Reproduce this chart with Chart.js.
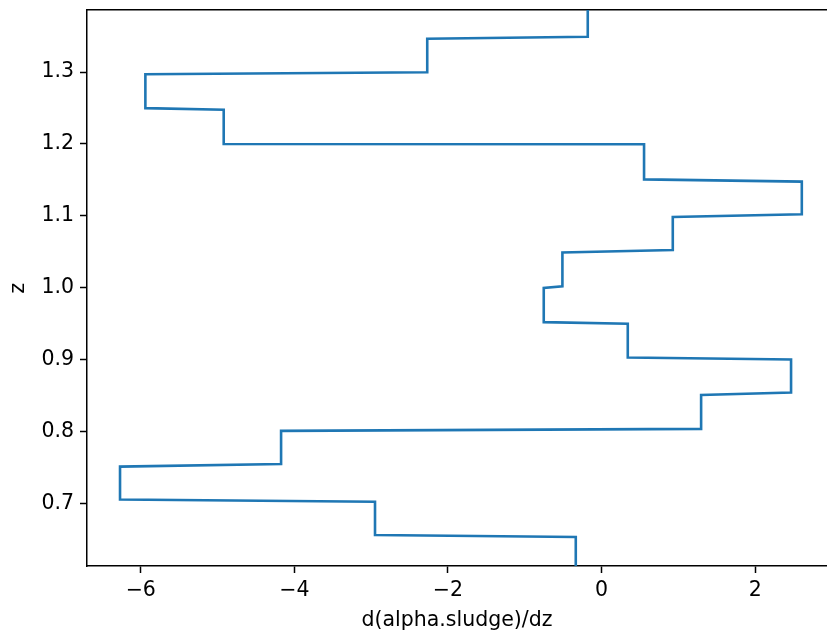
<!DOCTYPE html>
<html lang="en">
<head>
    <meta charset="UTF-8">
    <title>d(alpha.sludge)/dz</title>
    <script src="https://cdn.jsdelivr.net/npm/chart.js"></script>
    <style>
        html, body { margin: 0; padding: 0; background: #fff; overflow: hidden; }
        #wrap { width: 827px; height: 633px; position: relative; }
    </style>
</head>
<body>
<div id="wrap"><canvas id="gradChart"></canvas></div>

<script>
// profile vertices: gradient value and height z, top to bottom
const gradPts = [
    -0.18, -0.18,  -2.27, -2.27,  -5.94, -5.94,  -4.92, -4.92,
    0.553, 0.553,  2.607, 2.607,  0.927, 0.927,  -0.51, -0.51,
    -0.753, -0.753,  0.341, 0.341,  2.467, 2.467,  1.296, 1.296,
    -4.173, -4.173,  -6.27, -6.27,  -2.95, -2.95,  -0.336, -0.336
];
const zPts = [
    1.400, 1.349,  1.3462, 1.2996,  1.2968, 1.2498,  1.2476, 1.2000,
    1.1996, 1.1508,  1.1477, 1.1024,  1.0986, 1.0526,  1.0492, 1.0022,
    1.0000, 0.9524,  0.9502, 0.9032,  0.9004, 0.8545,  0.8510, 0.8040,
    0.8012, 0.7552,  0.7515, 0.7058,  0.7026, 0.6564,  0.6537, 0.600
];
const xTicks = [-6, -4, -2, 0, 2];
const zTicks = [0.7, 0.8, 0.9, 1.0, 1.1, 1.2, 1.3];

const points = gradPts.map((g, i) => ({ x: g, y: zPts[i] }));

const font = { family: '"DejaVu Sans", sans-serif', size: 20.5 };
const ink = '#000';

function setTicks(values) {
    return scale => { scale.ticks = values.map(v => ({ value: v })); };
}

const ctx = document.getElementById('gradChart').getContext('2d');
new Chart(ctx, {
    type: 'scatter',
    data: {
        datasets: [{
            data: points,
            showLine: true,
            borderColor: '#1f77b4',
            borderWidth: 2.6,
            pointRadius: 0,
            tension: 0,
            fill: false
        }]
    },
    options: {
        responsive: true,
        maintainAspectRatio: false,
        animation: false,
        layout: { padding: { top: 10, right: 0, left: 0, bottom: 0 } },
        plugins: { legend: { display: false }, tooltip: { enabled: false } },
        scales: {
            x: {
                type: 'linear',
                position: 'bottom',
                min: -6.70,
                max: 2.935,
                afterBuildTicks: setTicks(xTicks),
                afterFit: scale => { scale.height = 67; },
                border: { display: true, color: ink, width: 1.5 },
                grid: { drawOnChartArea: false, drawTicks: true, tickLength: 7, tickWidth: 1.5, tickColor: ink },
                ticks: {
                    color: ink, font: font, padding: 5, maxRotation: 0,
                    callback: v => v < 0 ? '\u2212' + Math.abs(v) : String(v)
                },
                title: { display: true, text: 'd(alpha.sludge)/dz', color: ink, font: font, padding: { top: 1, bottom: 0 } }
            },
            xTop: {
                type: 'linear',
                position: 'top',
                min: -6.70,
                max: 2.935,
                afterFit: scale => { scale.height = 0; },
                border: { display: true, color: ink, width: 1.5 },
                grid: { display: false, drawTicks: false },
                ticks: { display: false }
            },
            y: {
                type: 'linear',
                min: 0.6134,
                max: 1.3862,
                afterBuildTicks: setTicks(zTicks),
                afterFit: scale => {
                    scale.width = 87;
                    scale.paddingTop = 0;
                    scale.paddingBottom = 0;
                },
                border: { display: true, color: ink, width: 1.5 },
                grid: { drawOnChartArea: false, drawTicks: true, tickLength: 7, tickWidth: 1.5, tickColor: ink },
                ticks: { color: ink, font: font, padding: 6, callback: v => v.toFixed(1) },
                title: { display: true, text: 'z', color: ink, font: font, padding: { top: 6, bottom: 0 } }
            }
        }
    }
});
</script>
</body>
</html>
